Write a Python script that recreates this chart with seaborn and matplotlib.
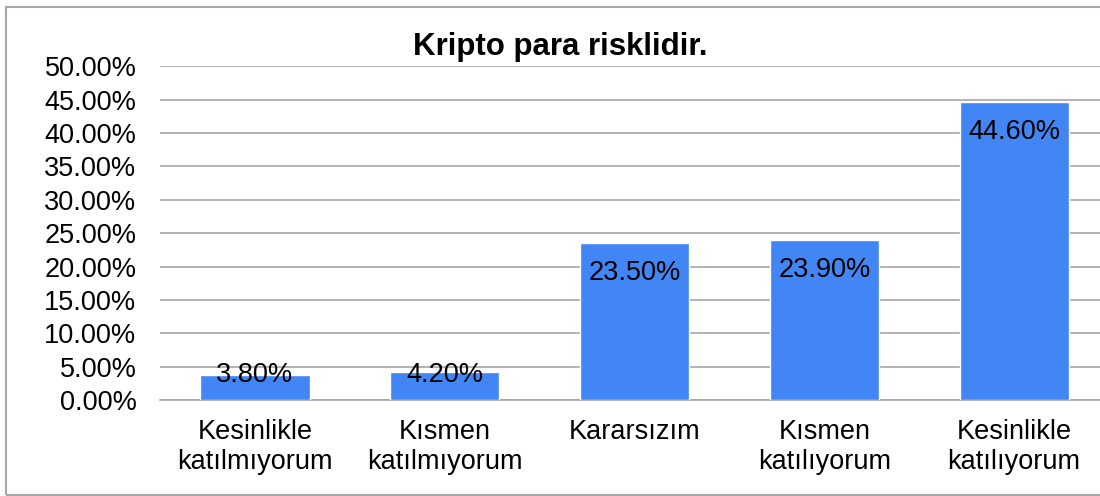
import matplotlib
matplotlib.use("Agg")
import matplotlib.pyplot as plt
import seaborn as sns
import pandas as pd
from matplotlib.patches import Rectangle

# Data
categories = ["Kesinlikle\nkatılmıyorum", "Kısmen\nkatılmıyorum", "Kararsızım",
              "Kısmen\nkatılıyorum", "Kesinlikle\nkatılıyorum"]
values = [3.8, 4.2, 23.5, 23.9, 44.6]
y_ticks = [0, 5, 10, 15, 20, 25, 30, 35, 40, 45, 50]

df = pd.DataFrame({"cat": categories, "val": values})

sns.set_style("white")
plt.rcParams["font.family"] = ["Liberation Sans", "DejaVu Sans"]
plt.rcParams["text.color"] = "black"
plt.rcParams["xtick.color"] = "black"
plt.rcParams["ytick.color"] = "black"

fig = plt.figure(figsize=(11, 4.96), dpi=100)
ax = fig.add_axes([0.1455, 0.1935, 0.8627, 0.673])

sns.barplot(x="cat", y="val", data=df, color="#4285F4", saturation=1,
            width=0.575, ax=ax, zorder=3)

ax.set_ylim(0, 50)
ax.set_yticks(y_ticks)
ax.set_yticklabels([f"{t:.2f}%" for t in y_ticks], fontsize=19.5)
ax.tick_params(axis="x", labelsize=19.5, length=0, pad=14)
ax.tick_params(axis="y", length=0, pad=17)
for lbl in ax.get_xticklabels():
    lbl.set_linespacing(1.2)
ax.set_xlabel("")
ax.set_ylabel("")
ax.yaxis.grid(True, color="#a6a6a6", linewidth=1.2, zorder=0)
ax.set_axisbelow(True)
for s in ["left", "right", "top"]:
    ax.spines[s].set_visible(False)
ax.spines["bottom"].set_color("#a6a6a6")
ax.spines["bottom"].set_linewidth(1.2)

# value labels
for i, v in enumerate(values):
    ax.text(i, max(v - 4.4, 3.7), f"{v:.2f}%", ha="center", va="center",
            fontsize=19.5, color="black", zorder=4)

fig.text(0.509, 0.905, "Kripto para risklidir.", ha="center", va="center",
         fontsize=22.5, fontweight="bold")

# outer border
fig.patches.append(Rectangle((0.005, 0.003), 1.2, 0.983, transform=fig.transFigure,
                             fill=False, edgecolor="#a6a6a6", linewidth=1.5))

fig.savefig("out.png", dpi=100)
